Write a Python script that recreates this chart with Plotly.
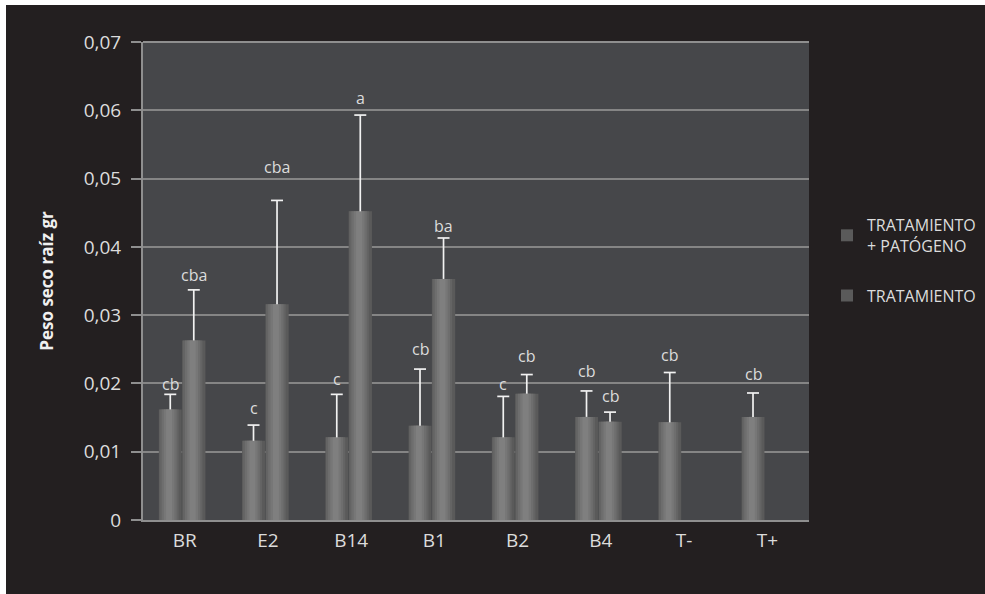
import plotly.graph_objects as go

# Root dry weight per treatment, two series (with and without pathogen)
categories = ["BR", "E2", "B14", "B1", "B2", "B4", "T-", "T+"]

pathogen_values = [0.0162, 0.0116, 0.0121, 0.0138, 0.0121, 0.0151, 0.0143, 0.0151]
pathogen_errors = [0.0022, 0.0023, 0.0063, 0.0083, 0.0060, 0.0038, 0.0073, 0.0035]
pathogen_letters = ["cb", "c", "c", "cb", "c", "cb", "cb", "cb"]

treatment_values = [0.0263, 0.0316, 0.0452, 0.0353, 0.0185, 0.0144, None, None]
treatment_errors = [0.0074, 0.0152, 0.0141, 0.0060, 0.0028, 0.0014, None, None]
treatment_letters = ["cba", "cba", "a", "ba", "cb", "cb", None, None]

y_tick_values = [0, 0.01, 0.02, 0.03, 0.04, 0.05, 0.06, 0.07]
y_tick_labels = ["0", "0,01", "0,02", "0,03", "0,04", "0,05", "0,06", "0,07"]

# Layout geometry (pixels)
W, H = 985, 594
ML, MR, MT, MB = 143, 176, 42, 74
PW, PH = W - ML - MR, H - MT - MB
CAT_PX = PW / len(categories)

FONT = "Open Sans"
PAPER = "#231f20"
PLOT_BG = "#46474a"
GRID = "#858585"
AXIS = "#8f8f8f"
TEXT = "#dcdcdc"

# Cylinder-like shading: stacked layers of narrowing, lightening bars
SHADES = [(1.00, "#5a5a5a"), (0.84, "#646464"), (0.66, "#6e6e6e"),
          (0.46, "#777777"), (0.26, "#7f7f7f")]
HILITE = 0.45  # highlight centre as fraction of bar width
CAP_HALF = 6 / CAT_PX  # error-bar cap half width in category units

series = [
    dict(name="TRATAMIENTO<br>+ PATÓGENO", y=pathogen_values, err=pathogen_errors,
         letters=pathogen_letters, offset=-0.31, width=0.275,
         shifts=[10, 17, 15, 20, 12, 20, 18, 19]),
    dict(name="TRATAMIENTO", y=treatment_values, err=treatment_errors,
         letters=treatment_letters, offset=-0.03, width=0.28,
         shifts=[15, 33, 17, 12, 19, 16, 0, 0]),
]

fig = go.Figure()
x_idx = list(range(len(categories)))

for gi, s in enumerate(series):
    for li, (frac, color) in enumerate(SHADES):
        w = s["width"] * frac
        if li == 0:
            off = s["offset"]
        else:
            off = s["offset"] + s["width"] * HILITE - w / 2
            off = max(off, s["offset"])
            off = min(off, s["offset"] + s["width"] - w)
        fig.add_trace(go.Bar(
            x=x_idx, y=s["y"], offset=off, width=w,
            marker=dict(color=color, line=dict(width=0)),
            name=s["name"], legendgroup=f"g{gi}",
            showlegend=(li == 0), hoverinfo="skip",
        ))

    # upper error bars: stem + cap, positioned at each bar centre
    ex, ey = [], []
    for i, (v, e) in enumerate(zip(s["y"], s["err"])):
        if v is None or e is None:
            continue
        cx = i + s["offset"] + s["width"] / 2
        ex += [cx, cx, None, cx - CAP_HALF, cx + CAP_HALF, None]
        ey += [v, v + e, None, v + e, v + e, None]
    fig.add_trace(go.Scatter(
        x=ex, y=ey, mode="lines", line=dict(color="#f2f2f2", width=1.7),
        showlegend=False, hoverinfo="skip",
    ))

    # significance letters
    for i, (v, e, lab) in enumerate(zip(s["y"], s["err"], s["letters"])):
        if v is None or lab is None:
            continue
        fig.add_annotation(
            x=i + s["offset"] + s["width"] / 2, y=v + e, text=lab,
            showarrow=False, yanchor="middle", yshift=s["shifts"][i],
            font=dict(family=FONT, size=16, color=TEXT),
        )

fig.update_layout(
    width=W, height=H,
    margin=dict(l=ML, r=MR, t=MT, b=MB, autoexpand=False),
    paper_bgcolor=PAPER, plot_bgcolor=PLOT_BG,
    barmode="overlay",
    font=dict(family=FONT, color=TEXT),
    legend=dict(
        x=(827 - ML) / PW, y=1 - (208 - MT) / PH, xanchor="left", yanchor="top",
        font=dict(family=FONT, size=16, color=TEXT),
        bgcolor="rgba(0,0,0,0)", tracegroupgap=26, itemwidth=30,
        traceorder="grouped",
    ),
    xaxis=dict(
        range=[-0.5, len(categories) - 0.5],
        tickmode="array", tickvals=x_idx, ticktext=categories,
        tickfont=dict(family=FONT, size=19, color=TEXT),
        showgrid=False, showline=True, linecolor=AXIS, linewidth=2,
        ticks="", ticklabelstandoff=2, zeroline=False,
    ),
    yaxis=dict(
        range=[0, 0.07], tickmode="array", tickvals=y_tick_values, ticktext=y_tick_labels,
        tickfont=dict(family=FONT, size=19, color=TEXT),
        showgrid=True, gridcolor=GRID, gridwidth=1.5,
        showline=True, linecolor=AXIS, linewidth=2,
        ticks="outside", ticklen=10, tickcolor=AXIS, tickwidth=1.5,
        ticklabelstandoff=6, zeroline=False,
        title=dict(text="<b>Peso seco raíz gr</b>", standoff=26,
                   font=dict(family=FONT, size=17, color="#f0f0f0")),
    ),
)

# top border line of the plot area
fig.add_shape(type="line", xref="paper", yref="paper", x0=0, x1=1, y0=1, y1=1,
              line=dict(color=AXIS, width=2))

# white edge strips along the top and left of the figure
fig.add_shape(type="rect", xref="paper", yref="paper", layer="above",
              x0=-ML / PW - 0.01, x1=(W - ML) / PW + 0.01,
              y0=1 + (MT - 5) / PH, y1=1 + MT / PH + 0.01,
              fillcolor="white", line=dict(width=0))
fig.add_shape(type="rect", xref="paper", yref="paper", layer="above",
              x0=-ML / PW - 0.01, x1=(6 - ML) / PW,
              y0=-MB / PH - 0.01, y1=1 + MT / PH + 0.01,
              fillcolor="white", line=dict(width=0))

fig.write_html("out.html")
